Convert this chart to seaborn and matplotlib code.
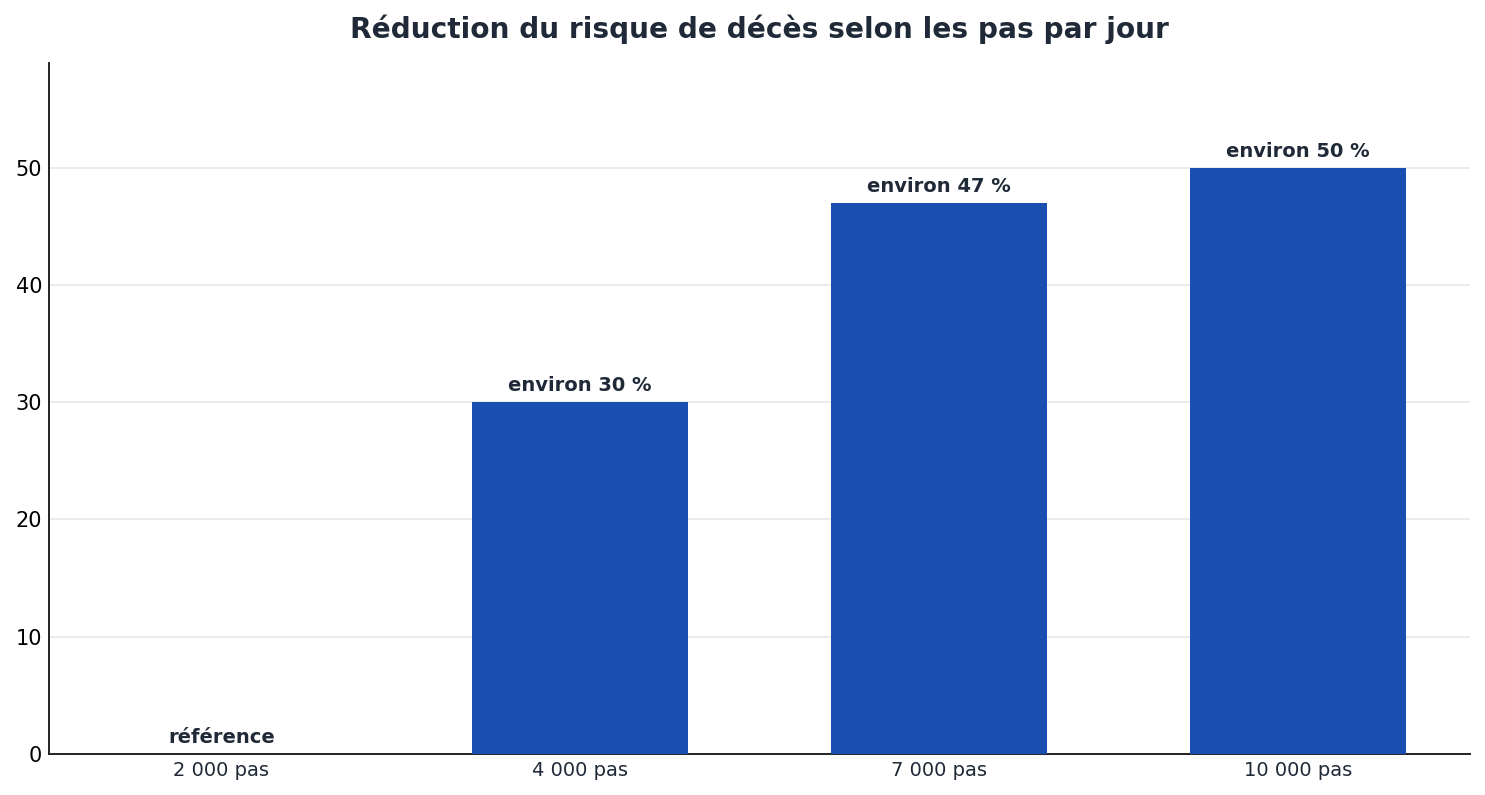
import matplotlib
matplotlib.use("Agg")
import matplotlib.pyplot as plt
import seaborn as sns
import pandas as pd

# données
pas = ['2 000 pas', '4 000 pas', '7 000 pas', '10 000 pas']
reduction = [0, 30, 47, 50]
etiquettes = ['référence', 'environ 30 %', 'environ 47 %', 'environ 50 %']

df = pd.DataFrame({'pas': pas, 'reduction': reduction})

sns.set_style('white')
plt.rcParams['font.family'] = ['DejaVu Sans']

fig, ax = plt.subplots(figsize=(14.85, 7.95), dpi=100)
sns.barplot(data=df, x='pas', y='reduction', color='#1a4fb1', saturation=1,
            width=0.6, linewidth=0, ax=ax, zorder=3)

for i, (v, lab) in enumerate(zip(reduction, etiquettes)):
    ax.text(i, v + 0.6, lab, ha='center', va='bottom', fontsize=14,
            fontweight='bold', color='#1f2937', zorder=4)

ax.set_xlim(-0.48, 3.48)
ax.set_ylim(0, 59)
ax.set_yticks([0, 10, 20, 30, 40, 50])
ax.yaxis.grid(True, color='#e5e7eb', linewidth=1.2, zorder=0)
ax.set_axisbelow(True)
sns.despine(ax=ax)
for s in ['left', 'bottom']:
    ax.spines[s].set_color('#222222')
    ax.spines[s].set_linewidth(1.4)
ax.tick_params(axis='both', length=0)
ax.tick_params(axis='y', labelsize=15, colors='black', pad=5)
ax.tick_params(axis='x', labelsize=14, labelcolor='#1f2937', pad=5.5)
ax.set_xlabel('')
ax.set_ylabel('')
ax.set_title('Réduction du risque de décès selon les pas par jour',
             fontsize=20.15, fontweight='bold', color='#1f2937', pad=18)

plt.subplots_adjust(left=0.033, right=0.99, top=0.921, bottom=0.052)
plt.savefig('out.png', dpi=100)
